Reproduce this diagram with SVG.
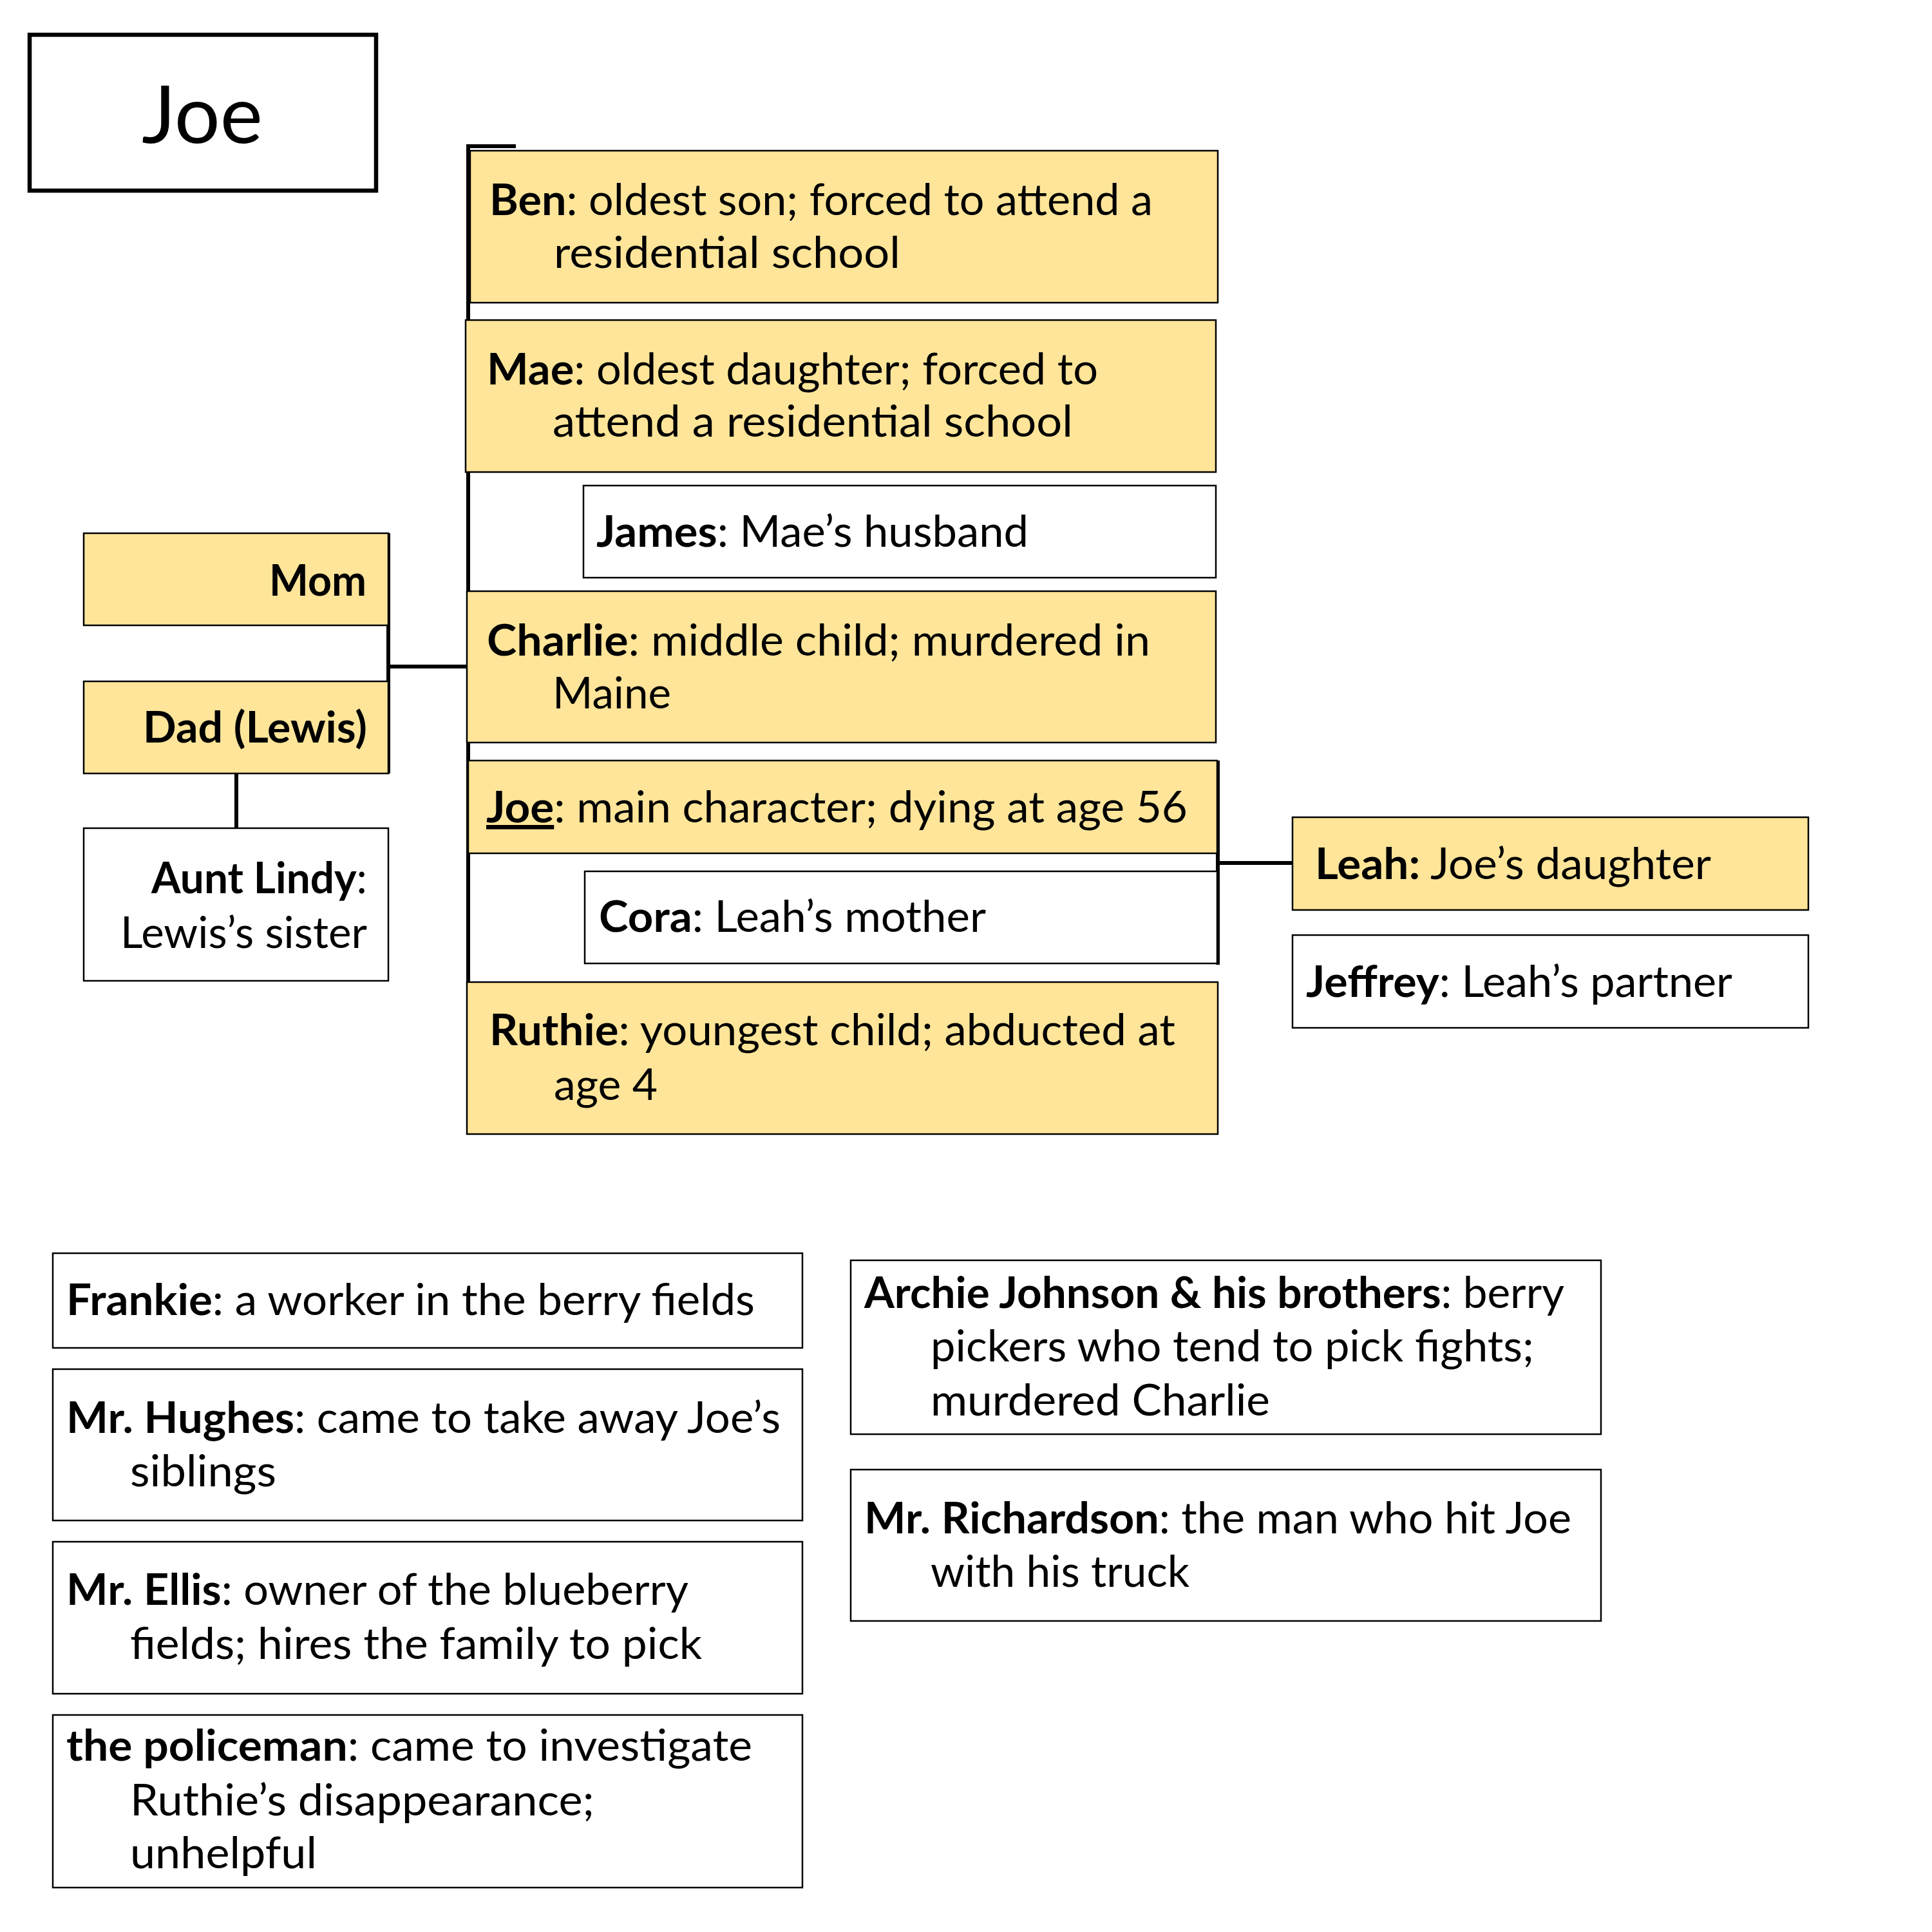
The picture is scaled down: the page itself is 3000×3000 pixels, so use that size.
<svg xmlns="http://www.w3.org/2000/svg" width="3000" height="3000" viewBox="0 0 3000 3000">
<style>
.t{font-family:Lato,"Liberation Sans",sans-serif;font-size:67px;fill:#000}
.b{font-weight:700}
.y{fill:#ffe599;stroke:#000;stroke-width:2.5}
.w{fill:#fff;stroke:#000;stroke-width:2.5}
.c{fill:none;stroke:#000;stroke-width:6}
.u{text-decoration:underline}
</style>
<rect width="3000" height="3000" fill="#fff"/>
<g id="title">
<rect x="46" y="54" width="538" height="242" fill="#fff" stroke="#000" stroke-width="6.5"/>
<text class="t" x="220" y="222" style="font-size:124px" textLength="188" lengthAdjust="spacingAndGlyphs">Joe</text>
</g>
<g id="connectors">
<path class="c" d="M801,227 H727 V1758 H800"/>
<path class="c" d="M603,828 V1201 M603,1035 H727"/>
<path class="c" d="M367,1201 V1286"/>
<path class="c" d="M1891,1181 V1498 M1891,1340 H2007"/>
</g>
<g id="ben">
<rect class="y" x="730" y="234" width="1161" height="236"/>
<text class="t" x="760" y="334" textLength="1030" lengthAdjust="spacingAndGlyphs"><tspan class="b">Ben</tspan>: oldest son; forced to attend a</text>
<text class="t" x="860" y="416" textLength="538" lengthAdjust="spacingAndGlyphs">residential school</text>
</g>
<g id="mae">
<rect class="y" x="723" y="497" width="1165" height="236"/>
<text class="t" x="756" y="597" textLength="949" lengthAdjust="spacingAndGlyphs"><tspan class="b">Mae</tspan>: oldest daughter; forced to</text>
<text class="t" x="858" y="678" textLength="808" lengthAdjust="spacingAndGlyphs">attend a residential school</text>
</g>
<g id="james">
<rect class="w" x="906" y="754" width="982" height="143"/>
<text class="t" x="926" y="849" textLength="671" lengthAdjust="spacingAndGlyphs"><tspan class="b">James</tspan>: Mae’s husband</text>
</g>
<g id="charlie">
<rect class="y" x="725" y="918" width="1163" height="235"/>
<text class="t" x="756" y="1018" textLength="1030" lengthAdjust="spacingAndGlyphs"><tspan class="b">Charlie</tspan>: middle child; murdered in</text>
<text class="t" x="858" y="1100" textLength="184" lengthAdjust="spacingAndGlyphs">Maine</text>
</g>
<g id="joe">
<rect class="y" x="727" y="1181" width="1163" height="144"/>
<text class="t" x="755" y="1277" textLength="1089" lengthAdjust="spacingAndGlyphs"><tspan class="b u">Joe</tspan>: main character; dying at age 56</text>
</g>
<g id="cora">
<rect class="w" x="908" y="1353" width="982" height="143"/>
<text class="t" x="930" y="1447" textLength="601" lengthAdjust="spacingAndGlyphs"><tspan class="b">Cora</tspan>: Leah’s mother</text>
</g>
<g id="ruthie">
<rect class="y" x="725" y="1525" width="1166" height="236"/>
<text class="t" x="760" y="1623" textLength="1065" lengthAdjust="spacingAndGlyphs"><tspan class="b">Ruthie</tspan>: youngest child; abducted at</text>
<text class="t" x="860" y="1708" textLength="161" lengthAdjust="spacingAndGlyphs">age 4</text>
</g>
<g id="mom">
<rect class="y" x="130" y="828" width="473" height="143"/>
<text class="t b" x="418" y="925" textLength="151" lengthAdjust="spacingAndGlyphs">Mom</text>
</g>
<g id="dad">
<rect class="y" x="130" y="1058" width="473" height="143"/>
<text class="t b" x="222" y="1153" textLength="348" lengthAdjust="spacingAndGlyphs">Dad (Lewis)</text>
</g>
<g id="aunt-lindy">
<rect class="w" x="130" y="1286" width="473" height="237"/>
<text class="t" x="235" y="1387" textLength="335" lengthAdjust="spacingAndGlyphs"><tspan class="b">Aunt Lindy</tspan>:</text>
<text class="t" x="187" y="1472" textLength="383" lengthAdjust="spacingAndGlyphs">Lewis’s sister</text>
</g>
<g id="leah">
<rect class="y" x="2007" y="1269" width="801" height="144"/>
<text class="t" x="2042" y="1365" textLength="615" lengthAdjust="spacingAndGlyphs"><tspan class="b">Leah:</tspan> Joe’s daughter</text>
</g>
<g id="jeffrey">
<rect class="w" x="2007" y="1452" width="801" height="144"/>
<text class="t" x="2028" y="1548" textLength="662" lengthAdjust="spacingAndGlyphs"><tspan class="b">Jeffrey</tspan>: Leah’s partner</text>
</g>
<g id="frankie">
<rect class="w" x="82" y="1946" width="1164" height="147"/>
<text class="t" x="103" y="2042" textLength="1069" lengthAdjust="spacingAndGlyphs"><tspan class="b">Frankie</tspan>: a worker in the berry fields</text>
</g>
<g id="hughes">
<rect class="w" x="82" y="2126" width="1164" height="235"/>
<text class="t" x="103" y="2225" textLength="1109" lengthAdjust="spacingAndGlyphs"><tspan class="b">Mr. Hughes</tspan>: came to take away Joe’s</text>
<text class="t" x="202" y="2308" textLength="227" lengthAdjust="spacingAndGlyphs">siblings</text>
</g>
<g id="ellis">
<rect class="w" x="82" y="2394" width="1164" height="236"/>
<text class="t" x="103" y="2492" textLength="966" lengthAdjust="spacingAndGlyphs"><tspan class="b">Mr. Ellis</tspan>: owner of the blueberry</text>
<text class="t" x="202" y="2576" textLength="888" lengthAdjust="spacingAndGlyphs">fields; hires the family to pick</text>
</g>
<g id="policeman">
<rect class="w" x="82" y="2663" width="1164" height="268"/>
<text class="t" x="103" y="2734" textLength="1065" lengthAdjust="spacingAndGlyphs"><tspan class="b">the policeman</tspan>: came to investigate</text>
<text class="t" x="202" y="2819" textLength="721" lengthAdjust="spacingAndGlyphs">Ruthie’s disappearance;</text>
<text class="t" x="202" y="2901" textLength="290" lengthAdjust="spacingAndGlyphs">unhelpful</text>
</g>
<g id="archie">
<rect class="w" x="1321" y="1957" width="1165" height="270"/>
<text class="t" x="1342" y="2031" textLength="1087" lengthAdjust="spacingAndGlyphs"><tspan class="b">Archie Johnson &amp; his brothers</tspan>: berry</text>
<text class="t" x="1445" y="2114" textLength="937" lengthAdjust="spacingAndGlyphs">pickers who tend to pick fights;</text>
<text class="t" x="1445" y="2198" textLength="527" lengthAdjust="spacingAndGlyphs">murdered Charlie</text>
</g>
<g id="richardson">
<rect class="w" x="1321" y="2282" width="1165" height="235"/>
<text class="t" x="1342" y="2381" textLength="1098" lengthAdjust="spacingAndGlyphs"><tspan class="b">Mr. Richardson</tspan>: the man who hit Joe</text>
<text class="t" x="1445" y="2464" textLength="402" lengthAdjust="spacingAndGlyphs">with his truck</text>
</g>
</svg>
